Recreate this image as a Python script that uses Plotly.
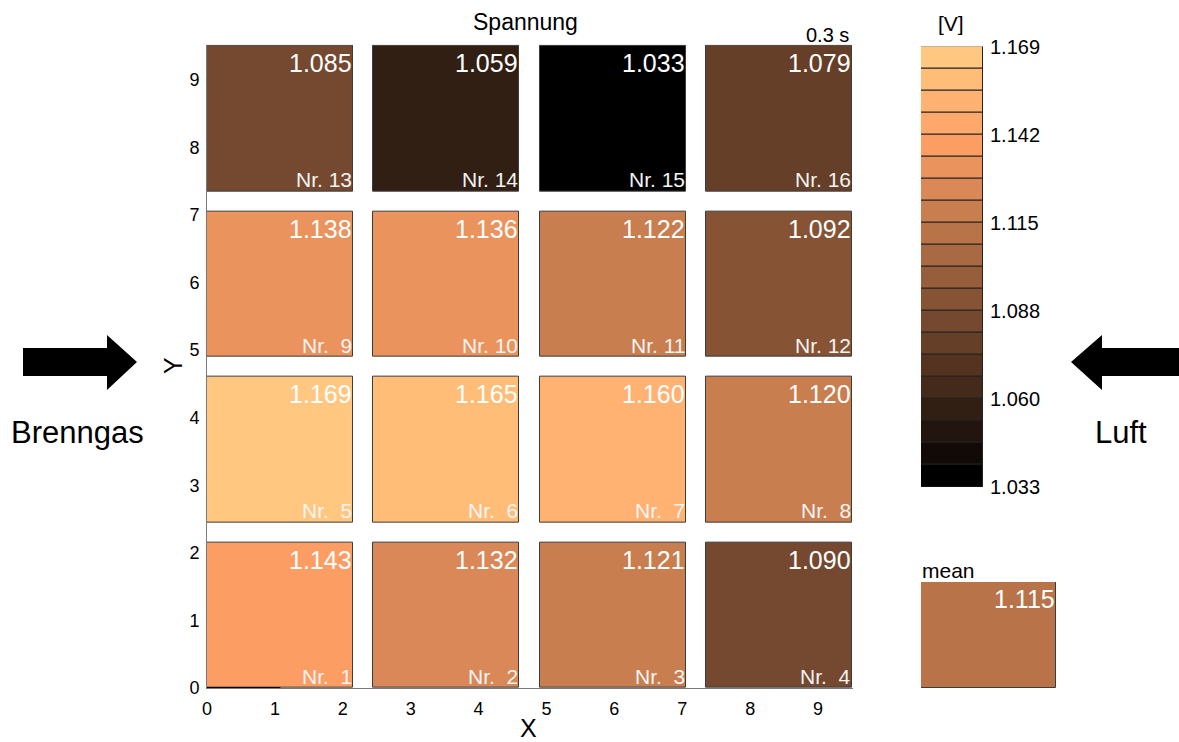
import plotly.graph_objects as go

# ---- data -------------------------------------------------------------
cell_nr = list(range(1, 17))
# voltage per cell, row by row from the bottom (Nr. 1..16)
voltage = [1.143, 1.132, 1.121, 1.090,
           1.169, 1.165, 1.160, 1.120,
           1.138, 1.136, 1.122, 1.092,
           1.085, 1.059, 1.033, 1.079]
col_x0 = [0.0, 2.45, 4.9, 7.35]      # left edge of each column
row_y0 = [0.0, 2.45, 4.9, 7.35]      # bottom edge of each row
cell_size = 2.15
axis_ticks = list(range(10))
v_min, v_max = 1.033, 1.169
n_levels = 20
cbar_ticktext = ["1.033", "1.060", "1.088", "1.115", "1.142", "1.169"]
time_label = "0.3 s"

W, H = 1179, 742
FONT = "Arial, Liberation Sans, sans-serif"


def copper(t):
    t = max(0.0, min(1.0, t))
    r = min(1.0, 1.25 * t)
    g = 0.7812 * t
    b = 0.4975 * t
    return f"rgb({round(r*255)},{round(g*255)},{round(b*255)})"


def value_color(v):
    # pick one of the n_levels entries of the copper map
    t = (v - v_min) / (v_max - v_min)
    idx = int(t * (n_levels - 1) + 1e-9)
    idx = max(0, min(n_levels - 1, idx))
    return copper(idx / (n_levels - 1))


def px_x(p):
    return p / W


def px_y(p):
    return 1 - p / H


mean_v = sum(voltage) / len(voltage)

# ---- main grid of cells ------------------------------------------------
xs, bases, colors = [], [], []
for i, v in enumerate(voltage):
    r, c = divmod(i, 4)
    xs.append(col_x0[c] + cell_size / 2)
    bases.append(row_y0[r])
    colors.append(value_color(v))

fig = go.Figure()
fig.add_trace(go.Bar(
    x=xs, y=[cell_size] * len(voltage), base=bases, width=cell_size,
    marker=dict(color=colors, line=dict(color="#3c3c3c", width=1)),
    xaxis="x", yaxis="y", hoverinfo="skip", showlegend=False,
))

# ---- colour scale bar (20 discrete levels) -----------------------------
step = (v_max - v_min) / n_levels
fig.add_trace(go.Bar(
    x=[0] * n_levels, y=[step] * n_levels,
    base=[v_min + k * step for k in range(n_levels)], width=1,
    marker=dict(color=[copper(k / (n_levels - 1)) for k in range(n_levels)],
                line=dict(color="#222222", width=1)),
    xaxis="x2", yaxis="y2", hoverinfo="skip", showlegend=False,
))

# ---- mean box ----------------------------------------------------------
fig.add_trace(go.Bar(
    x=[0.5], y=[1], base=[0], width=1,
    marker=dict(color=[value_color(mean_v)], line=dict(color="#3c3c3c", width=1)),
    xaxis="x3", yaxis="y3", hoverinfo="skip", showlegend=False,
))

r_max = 9.52
x_scale = (852 - 207) / 9.5
y_scale = (688 - 46) / 9.5

annotations = []
for i, v in enumerate(voltage):
    r, c = divmod(i, 4)
    x1 = col_x0[c] + cell_size
    y1 = row_y0[r] + cell_size
    annotations.append(dict(
        x=x1, y=y1, xref="x", yref="y", text=f"{v:.3f}",
        xanchor="right", yanchor="top", xshift=1, yshift=-1, showarrow=False,
        font=dict(family=FONT, size=25, color="white")))
    nr = cell_nr[i]
    nr_txt = f"Nr.\u00a0{nr}" if nr >= 10 else f"Nr.\u00a0\u00a0{nr}"
    annotations.append(dict(
        x=x1, y=row_y0[r], xref="x", yref="y", text=nr_txt,
        xanchor="right", yanchor="bottom", xshift=1, yshift=-2, showarrow=False,
        font=dict(family=FONT, size=21, color="#f4f4f4")))

annotations += [
    dict(x=px_x(525), y=px_y(22), xref="paper", yref="paper", text="Spannung",
         showarrow=False, xanchor="center", yanchor="middle",
         font=dict(family=FONT, size=23, color="black")),
    dict(x=px_x(851), y=px_y(35), xref="paper", yref="paper", text=time_label,
         showarrow=False, xanchor="right", yanchor="middle",
         font=dict(family=FONT, size=20, color="black")),
    dict(x=px_x(528), y=px_y(728), xref="paper", yref="paper", text="X",
         showarrow=False, xanchor="center", yanchor="middle",
         font=dict(family=FONT, size=25, color="black")),
    dict(x=px_x(173), y=px_y(366), xref="paper", yref="paper", text="Y",
         showarrow=False, xanchor="center", yanchor="middle", textangle=-90,
         font=dict(family=FONT, size=25, color="black")),
    dict(x=px_x(951), y=px_y(23), xref="paper", yref="paper", text="[V]",
         showarrow=False, xanchor="center", yanchor="middle",
         font=dict(family=FONT, size=21, color="black")),
    dict(x=px_x(920), y=px_y(570), xref="paper", yref="paper", text="mean",
         showarrow=False, xanchor="left", yanchor="middle",
         font=dict(family=FONT, size=21, color="black")),
    dict(x=1, y=1, xref="x3", yref="y3", text=f"{mean_v:.3f}",
         showarrow=False, xanchor="right", yanchor="top", xshift=1, yshift=-1,
         font=dict(family=FONT, size=25, color="white")),
    dict(x=px_x(77), y=px_y(432), xref="paper", yref="paper", text="Brenngas",
         showarrow=False, xanchor="center", yanchor="middle",
         font=dict(family=FONT, size=31, color="black")),
    dict(x=px_x(1121), y=px_y(432), xref="paper", yref="paper", text="Luft",
         showarrow=False, xanchor="center", yanchor="middle",
         font=dict(family=FONT, size=31, color="black")),
]


def arrow_path(points):
    return "M " + " L ".join(f"{px_x(a):.5f},{px_y(b):.5f}" for a, b in points) + " Z"


shapes = [
    dict(type="path", xref="paper", yref="paper", line=dict(width=0),
         fillcolor="black",
         path=arrow_path([(23, 348), (107, 348), (107, 335), (137, 362),
                          (107, 390), (107, 376), (23, 376)])),
    dict(type="path", xref="paper", yref="paper", line=dict(width=0),
         fillcolor="black",
         path=arrow_path([(1179, 348), (1102, 348), (1102, 335), (1071, 362),
                          (1102, 390), (1102, 376), (1179, 376)])),
    dict(type="line", xref="x", yref="y", x0=0, x1=1.08, y0=0, y1=0,
         line=dict(color="black", width=2)),
]

fig.update_layout(
    width=W, height=H,
    margin=dict(l=0, r=0, t=0, b=0, pad=0, autoexpand=False),
    paper_bgcolor="white", plot_bgcolor="white",
    barmode="overlay", bargap=0,
    showlegend=False,
    annotations=annotations,
    shapes=shapes,
    xaxis=dict(domain=[px_x(207), px_x(207 + r_max * x_scale)], range=[0, r_max],
               tickvals=axis_ticks, ticks="", showgrid=False, zeroline=False,
               showline=True, linecolor="#7a7a7a", linewidth=1,
               tickfont=dict(family=FONT, size=18, color="black"),
               ticklabelstandoff=4, anchor="y", fixedrange=True, automargin=False),
    yaxis=dict(domain=[px_y(688), px_y(688 - r_max * y_scale)], range=[0, r_max],
               tickvals=axis_ticks, ticks="", showgrid=False, zeroline=False,
               showline=True, linecolor="#7a7a7a", linewidth=1,
               tickfont=dict(family=FONT, size=18, color="black"),
               ticklabelstandoff=3, anchor="x", fixedrange=True, automargin=False),
    xaxis2=dict(domain=[px_x(921), px_x(983)], range=[-0.5, 0.5], visible=False,
                anchor="y2", fixedrange=True),
    yaxis2=dict(domain=[px_y(487), px_y(46.5)], range=[v_min, v_max],
                tickvals=[v_min + k * (v_max - v_min) / 5 for k in range(6)],
                ticktext=cbar_ticktext, side="right", anchor="x2",
                ticks="", showgrid=False, zeroline=False, showline=False,
                tickfont=dict(family=FONT, size=20, color="black"),
                ticklabelstandoff=6, fixedrange=True, automargin=False),
    xaxis3=dict(domain=[px_x(921), px_x(1056)], range=[0, 1], visible=False,
                anchor="y3", fixedrange=True),
    yaxis3=dict(domain=[px_y(688), px_y(582)], range=[0, 1], visible=False,
                anchor="x3", fixedrange=True),
)

fig.write_html("out.html")
